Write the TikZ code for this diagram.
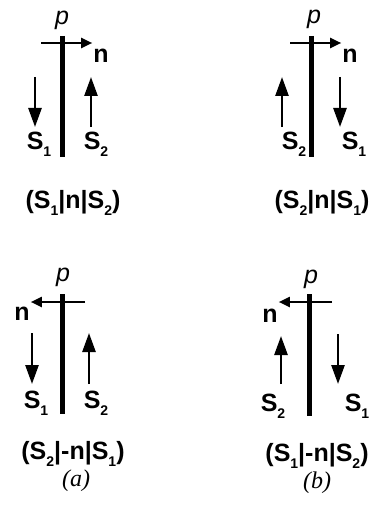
\documentclass[tikz,border=0pt]{standalone}
\usepackage{fontspec}
\setmainfont{Liberation Sans}
\newfontfamily\capserif{Liberation Serif}
\usetikzlibrary{arrows.meta}
\newcommand{\Sn}[1]{S\raisebox{-7pt}{\fontsize{14}{14}\selectfont #1}}

\begin{document}
\begin{tikzpicture}[x=1pt, y=-1pt]
    \tikzset{
        lbl/.style={font=\fontsize{25}{26}\selectfont\bfseries, inner sep=0pt, anchor=base},
        plbl/.style={font=\fontsize{25}{26}\selectfont\itshape, inner sep=0pt, anchor=base},
        caplbl/.style={font=\fontsize{24}{26}\selectfont\capserif\itshape, inner sep=0pt, anchor=base},
        bar/.style={draw, line width=5pt},
        spin/.style={draw, -{Triangle[length=19pt,width=13pt]}, line width=2.6pt},
        mom/.style={draw, -{Triangle[length=11pt,width=10pt]}, line width=2pt, shorten >=1pt}
    }
    \useasboundingbox (0,0) rectangle (370,508);

    % Top left
    \node[plbl] (tl-p) at (62,25) {p};
    \coordinate (tl-b1) at (62,36);
    \coordinate (tl-b2) at (62,157);
    \coordinate (tl-m) at (41,43);
    \node[lbl] (tl-n) at (101,63) {n};
    \coordinate (tl-a1) at (35,77);
    \coordinate (tl-a2) at (35,127);
    \coordinate (tl-c1) at (91,127);
    \coordinate (tl-c2) at (91,77);
    \node[lbl] (tl-s1) at (39,149) {\Sn{1}};
    \node[lbl] (tl-s2) at (96,149) {\Sn{2}};
    \node[lbl] (tl-lab) at (73,208) {(\Sn{1}|n|\Sn{2})};
    \path[bar] (tl-b1) -- (tl-b2);
    \path[mom] (tl-m) -- (tl-m -| tl-n.west);
    \path[spin] (tl-a1) -- (tl-a2);
    \path[spin] (tl-c1) -- (tl-c2);

    % Top right
    \node[plbl] (tr-p) at (314,24) {p};
    \coordinate (tr-b1) at (311,36);
    \coordinate (tr-b2) at (311,157);
    \coordinate (tr-m) at (290,43);
    \node[lbl] (tr-n) at (350,63) {n};
    \coordinate (tr-a1) at (282,127);
    \coordinate (tr-a2) at (282,77);
    \coordinate (tr-c1) at (340,77);
    \coordinate (tr-c2) at (340,127);
    \node[lbl] (tr-s2) at (294,149) {\Sn{2}};
    \node[lbl] (tr-s1) at (354,149) {\Sn{1}};
    \node[lbl] (tr-lab) at (322,208) {(\Sn{2}|n|\Sn{1})};
    \path[bar] (tr-b1) -- (tr-b2);
    \path[mom] (tr-m) -- (tr-m -| tr-n.west);
    \path[spin] (tr-a1) -- (tr-a2);
    \path[spin] (tr-c1) -- (tr-c2);

    % Bottom left
    \node[plbl] (bl-p) at (63,281) {p};
    \coordinate (bl-b1) at (62,294);
    \coordinate (bl-b2) at (62,414);
    \coordinate (bl-m) at (85,302);
    \node[lbl] (bl-n) at (22,320) {n};
    \coordinate (bl-a1) at (32,333);
    \coordinate (bl-a2) at (32,384);
    \coordinate (bl-c1) at (89,384);
    \coordinate (bl-c2) at (89,333);
    \node[lbl] (bl-s1) at (36,408) {\Sn{1}};
    \node[lbl] (bl-s2) at (96,408) {\Sn{2}};
    \node[lbl] (bl-lab) at (73,459) {(\Sn{2}|-n|\Sn{1})};
    \node[caplbl] (bl-cap) at (76,486) {(a)};
    \path[bar] (bl-b1) -- (bl-b2);
    \path[mom] (bl-m) -- (bl-m -| bl-n.east);
    \path[spin] (bl-a1) -- (bl-a2);
    \path[spin] (bl-c1) -- (bl-c2);

    % Bottom right
    \node[plbl] (br-p) at (311,283) {p};
    \coordinate (br-b1) at (309,294);
    \coordinate (br-b2) at (309,416);
    \coordinate (br-m) at (332,302);
    \node[lbl] (br-n) at (270,322) {n};
    \coordinate (br-a1) at (281,384);
    \coordinate (br-a2) at (281,336);
    \coordinate (br-c1) at (338,334);
    \coordinate (br-c2) at (338,384);
    \node[lbl] (br-s2) at (273,411) {\Sn{2}};
    \node[lbl] (br-s1) at (357,411) {\Sn{1}};
    \node[lbl] (br-lab) at (317,461) {(\Sn{1}|-n|\Sn{2})};
    \node[caplbl] (br-cap) at (317,488) {(b)};
    \path[bar] (br-b1) -- (br-b2);
    \path[mom] (br-m) -- (br-m -| br-n.east);
    \path[spin] (br-a1) -- (br-a2);
    \path[spin] (br-c1) -- (br-c2);
\end{tikzpicture}
\end{document}
